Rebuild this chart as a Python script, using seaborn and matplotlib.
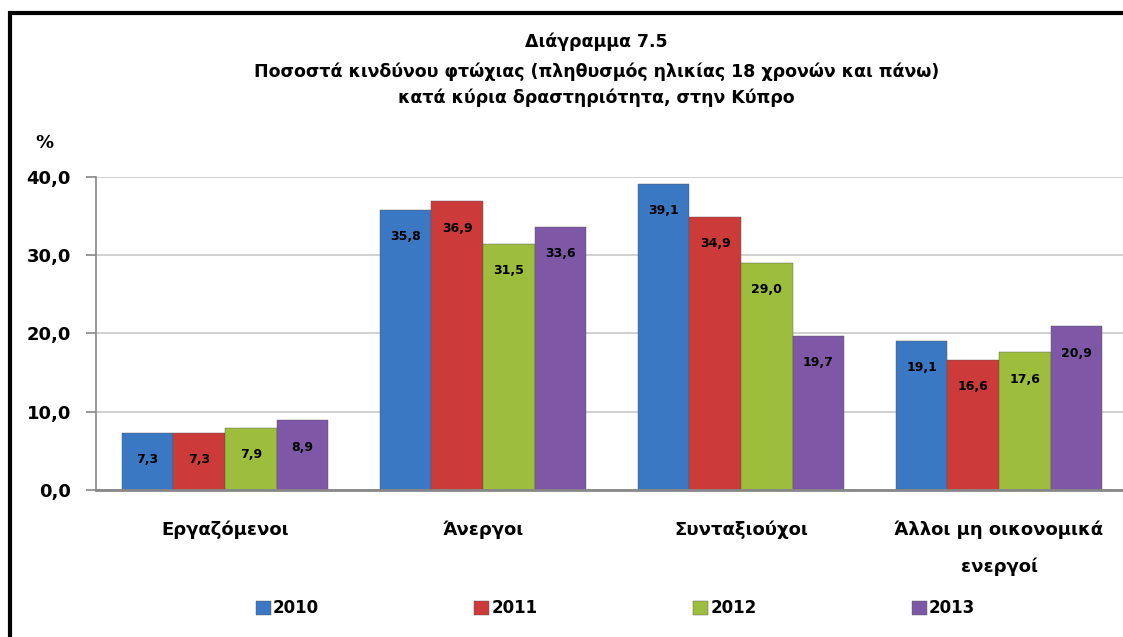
import pandas as pd
import matplotlib.pyplot as plt
import matplotlib.patches as mpatches
import seaborn as sns

categories = ['Εργαζόμενοι', 'Άνεργοι', 'Συνταξιούχοι', 'Άλλοι μη οικονομικά\nενεργοί']
years = ['2010', '2011', '2012', '2013']
v2010 = [7.3, 35.8, 39.1, 19.1]
v2011 = [7.3, 36.9, 34.9, 16.6]
v2012 = [7.9, 31.5, 29.0, 17.6]
v2013 = [8.9, 33.6, 19.7, 20.9]
colors = ['#3b78c3', '#cc3b39', '#9dbd3c', '#7e58a6']

rows = []
for y, vals in zip(years, [v2010, v2011, v2012, v2013]):
    for c, v in zip(categories, vals):
        rows.append({'cat': c, 'year': y, 'val': v})
df = pd.DataFrame(rows)

sns.set_style('white')
plt.rcParams['font.family'] = ['DejaVu Sans']
plt.rcParams['text.color'] = 'black'
plt.rcParams['xtick.color'] = 'black'
plt.rcParams['ytick.color'] = 'black'

fig = plt.figure(figsize=(11.23, 6.37), dpi=100)
ax = fig.add_axes([0.0855, 0.231, 0.919, 0.491])

sns.barplot(df, x='cat', y='val', hue='year', palette=colors, width=0.8,
            saturation=1, edgecolor='#555555', linewidth=0.3, ax=ax, legend=True)

for cont in ax.containers:
    labels = [f'{b.get_height():.1f}'.replace('.', ',') for b in cont]
    ax.bar_label(cont, labels=labels, label_type='edge', padding=-24,
                 fontsize=9, fontweight='bold', color='black')

ax.set_ylim(0, 40)
ax.set_yticks([0, 10, 20, 30, 40])
ax.set_yticklabels(['0,0', '10,0', '20,0', '30,0', '40,0'], fontsize=13, fontweight='bold')
ax.yaxis.grid(True, color='#c8c8c8', linewidth=1.2)
ax.set_axisbelow(True)
ax.tick_params(axis='y', length=7, width=1.2, color='#888888', labelcolor='black',
               direction='out', pad=11, left=True)
ax.tick_params(axis='x', length=0, pad=22, labelcolor='black')
for lab in ax.get_xticklabels():
    lab.set_fontsize(13)
    lab.set_fontweight('bold')
    lab.set_linespacing(2.25)
ax.set_xlabel('')
ax.set_ylabel('')
for s in ['top', 'right']:
    ax.spines[s].set_visible(False)
ax.spines['left'].set_color('#888888')
ax.spines['left'].set_linewidth(1.2)
ax.spines['bottom'].set_color('#888888')
ax.spines['bottom'].set_linewidth(2)

handles, labs = ax.get_legend_handles_labels()
leg = ax.legend(handles, labs, loc='center', bbox_to_anchor=(0.548, 0.045), bbox_transform=fig.transFigure,
                ncol=4, frameon=False, columnspacing=9.3, handlelength=0.9, handleheight=0.9,
                handletextpad=0.15, prop={'weight': 'bold', 'size': 12})
for t in leg.get_texts():
    t.set_color('black')

fig.text(0.531, 0.934, 'Διάγραμμα 7.5', ha='center', va='center', fontsize=12.5, fontweight='bold')
fig.text(0.531, 0.887, 'Ποσοστά κινδύνου φτώχιας (πληθυσμός ηλικίας 18 χρονών και πάνω)',
         ha='center', va='center', fontsize=12.5, fontweight='bold')
fig.text(0.531, 0.846, 'κατά κύρια δραστηριότητα, στην Κύπρο', ha='center', va='center',
         fontsize=12.5, fontweight='bold')
fig.text(0.04, 0.775, '%', ha='center', va='center', fontsize=13, fontweight='bold')

fig.patches.append(mpatches.Rectangle((0.0085, -0.05), 1.1, 1.03, transform=fig.transFigure,
                                      fill=False, edgecolor='black', linewidth=3))

fig.savefig('out.png', dpi=100)
